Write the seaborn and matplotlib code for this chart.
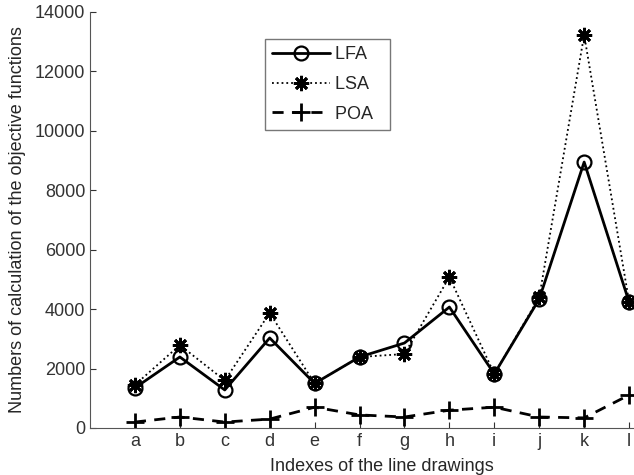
import numpy as np
import pandas as pd
import matplotlib
matplotlib.use('Agg')
import matplotlib.pyplot as plt
import seaborn as sns

# data
labels = ['a', 'b', 'c', 'd', 'e', 'f', 'g', 'h', 'i', 'j', 'k', 'l']
lfa = [1350, 2390, 1280, 3030, 1500, 2390, 2860, 4070, 1820, 4340, 8950, 4240]
lsa = [1450, 2790, 1600, 3870, 1500, 2390, 2490, 5080, 1820, 4400, 13230, 4250]
poa = [200, 370, 200, 300, 700, 440, 370, 600, 700, 370, 340, 1110]

sns.set_style('ticks')
plt.rcParams['font.family'] = ['Liberation Sans', 'DejaVu Sans']

fig = plt.figure(figsize=(6.34, 4.75), dpi=100)
ax = fig.add_axes([90 / 634, 47 / 475, 584 / 634, 416 / 475])

pos = np.arange(1, len(labels) + 1)
sns.lineplot(x=pos, y=lfa, ax=ax, color='black', lw=2, marker='o', ms=10,
             mfc='none', mec='black', mew=1.6, label='LFA')
sns.lineplot(x=pos, y=lsa, ax=ax, color='black', lw=1.3, ls=':', marker=(8, 2, 0), ms=11,
             mec='black', mew=2, label='LSA')
sns.lineplot(x=pos, y=poa, ax=ax, color='black', lw=2, ls=(0, (4, 3)), marker='+', ms=13,
             mec='black', mew=2, label='POA')

ax.set_xlim(0, 13)
ax.set_ylim(0, 14000)
ax.set_xticks(pos)
ax.set_xticklabels(labels)
ax.set_yticks(np.arange(0, 14001, 2000))
ax.tick_params(direction='in', labelsize=13, colors='#333333', length=4)
for s in ['top', 'right']:
    ax.spines[s].set_visible(False)
for s in ['left', 'bottom']:
    ax.spines[s].set_color('#555555')

ax.set_xlabel('Indexes of the line drawings', fontsize=13, labelpad=6)
ax.set_ylabel('Numbers of calculation of the objective functions', fontsize=13, labelpad=6)

leg = ax.legend(loc='upper left', bbox_to_anchor=(175 / 584, 0.935), fontsize=13,
                handlelength=3.2, frameon=True, fancybox=False, borderpad=0.4,
                labelspacing=0.7, handletextpad=0.3, borderaxespad=0)
leg.get_frame().set_edgecolor('#555555')
leg.get_frame().set_linewidth(1)
# reference frame has extra room on the right of the labels
for t in leg.get_texts():
    t.set_text(t.get_text() + '  ')

fig.savefig('out.png', dpi=100)
